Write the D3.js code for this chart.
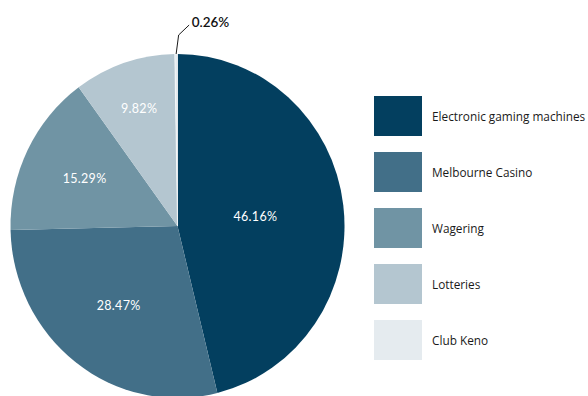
<!DOCTYPE html>
<html>
<head>
<meta charset="utf-8">
<script src="https://cdn.jsdelivr.net/npm/d3@7"></script>
<style>
  html, body { margin: 0; padding: 0; background: #fff; }
  svg { display: block; }
</style>
</head>
<body>
<svg id="chart" width="588" height="396"></svg>
<script>
// Share of gambling expenditure by segment
const categories = ["Electronic gaming machines", "Melbourne Casino", "Wagering", "Lotteries", "Club Keno"];
const shares = [46.16, 28.47, 15.29, 9.82, 0.26];
const colours = ["#033f5f", "#426f88", "#7094a4", "#b4c6d0", "#e5ebef"];

// Label distance from centre, as a fraction of the radius, for each slice
const labelRadius = [0.47, 0.58, 0.62, 0.72, null];

const W = 588, H = 396;
const cx = 177.5, cy = 226, r = 167, yStretch = 172 / 167;

const svg = d3.select("#chart");

const pie = d3.pie().sort(null).value(d => d.value);
const arcs = pie(categories.map((c, i) => ({ name: c, value: shares[i], colour: colours[i], lr: labelRadius[i] })));
const arc = d3.arc().innerRadius(0).outerRadius(r);

const g = svg.append("g").attr("transform", `translate(${cx},${cy}) scale(1,${yStretch})`);

g.selectAll("path.slice")
  .data(arcs)
  .join("path")
  .attr("class", "slice")
  .attr("d", arc)
  .attr("fill", d => d.data.colour)
  .attr("stroke", d => d.index === 4 ? "#ffffff" : "none")
  .attr("stroke-width", 0.6);

// In-slice percentage labels
const fmt = v => v.toFixed(2) + "%";
const labels = svg.append("g").attr("transform", `translate(${cx},${cy})`);
labels.selectAll("text")
  .data(arcs.filter(d => d.data.lr != null))
  .join("text")
  .attr("x", d => {
    const a = (d.startAngle + d.endAngle) / 2;
    return Math.sin(a) * r * d.data.lr;
  })
  .attr("y", d => {
    const a = (d.startAngle + d.endAngle) / 2;
    return -Math.cos(a) * r * d.data.lr * yStretch;
  })
  .attr("text-anchor", "middle")
  .attr("dominant-baseline", "central")
  .attr("fill", "#ffffff")
  .attr("font-family", "Lato, 'Open Sans', sans-serif")
  .attr("font-size", 12.5)
  .attr("letter-spacing", 0.3)
  .text(d => fmt(d.data.value));

// Leader and label for the small Club Keno slice
const keno = arcs[4];
const ka = (keno.startAngle + keno.endAngle) / 2;
const edge = [Math.sin(ka) * r, -Math.cos(ka) * r * yStretch];
const elbow = [edge[0] + 2.5, -191];
const tip = [edge[0] + 13, -201];
labels.append("path")
  .attr("d", d3.line()([edge, elbow, tip]))
  .attr("fill", "none")
  .attr("stroke", "#1a1a1a")
  .attr("stroke-width", 1);
labels.append("text")
  .attr("x", tip[0] + 2.5)
  .attr("y", tip[1] - 3.5)
  .attr("dominant-baseline", "central")
  .attr("fill", "#111")
  .attr("font-family", "Lato, 'Open Sans', sans-serif")
  .attr("font-weight", 600)
  .attr("font-size", 13.5)
  .text(fmt(keno.data.value));

// Legend
const legendY = d3.scalePoint().domain(categories).range([96, 320]);
const legend = svg.append("g");
const item = legend.selectAll("g")
  .data(categories.map((c, i) => ({ name: c, colour: colours[i] })))
  .join("g")
  .attr("transform", d => `translate(374,${legendY(d.name)})`);
item.append("rect")
  .attr("width", 48)
  .attr("height", 40)
  .attr("fill", d => d.colour);
item.append("text")
  .attr("x", 58)
  .attr("y", 20)
  .attr("dominant-baseline", "central")
  .attr("fill", "#1a1a1a")
  .attr("font-family", "'Open Sans', 'Noto Sans', sans-serif")
  .attr("font-size", 11.8)
  .text(d => d.name);
</script>
</body>
</html>
